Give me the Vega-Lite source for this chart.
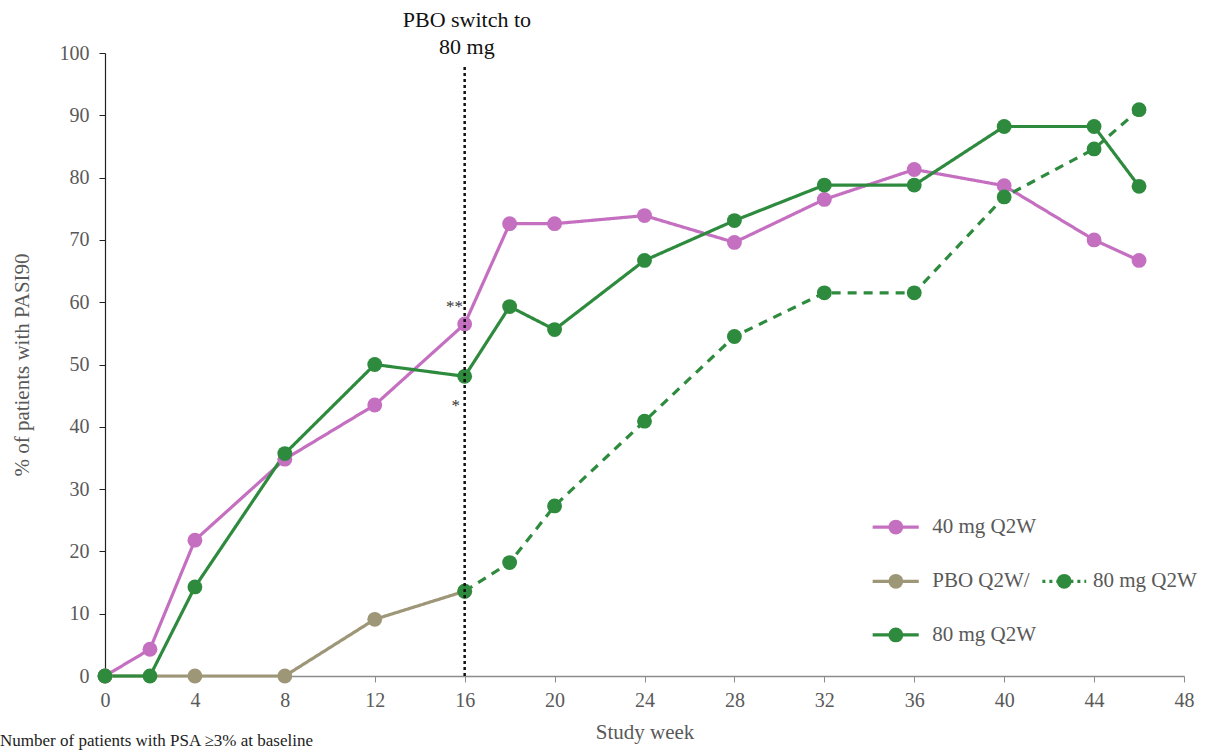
{
  "$schema": "https://vega.github.io/schema/vega-lite/v6.json",
  "autosize": {"type": "none"},
  "width": 1079,
  "height": 623,
  "padding": {"left": 105, "top": 53, "right": 27, "bottom": 75},
  "background": "white",
  "config": {
    "view": {"stroke": null},
    "font": "Liberation Serif",
    "axis": {"grid": false, "labelFont": "Liberation Serif", "titleFont": "Liberation Serif", "labelFontSize": 20, "titleFontSize": 21, "labelColor": "#595959", "titleColor": "#595959", "titleFontWeight": "normal", "tickSize": 6}
  },
  "datasets": {
    "series": [
      {"group": "40 mg Q2W", "week": 0, "pct": 0},
      {"group": "40 mg Q2W", "week": 2, "pct": 4.3},
      {"group": "40 mg Q2W", "week": 4, "pct": 21.8},
      {"group": "40 mg Q2W", "week": 8, "pct": 34.8},
      {"group": "40 mg Q2W", "week": 12, "pct": 43.5},
      {"group": "40 mg Q2W", "week": 16, "pct": 56.5},
      {"group": "40 mg Q2W", "week": 18, "pct": 72.6},
      {"group": "40 mg Q2W", "week": 20, "pct": 72.6},
      {"group": "40 mg Q2W", "week": 24, "pct": 73.9},
      {"group": "40 mg Q2W", "week": 28, "pct": 69.6},
      {"group": "40 mg Q2W", "week": 32, "pct": 76.5},
      {"group": "40 mg Q2W", "week": 36, "pct": 81.3},
      {"group": "40 mg Q2W", "week": 40, "pct": 78.7},
      {"group": "40 mg Q2W", "week": 44, "pct": 70.0},
      {"group": "40 mg Q2W", "week": 46, "pct": 66.7},
      {"group": "PBO Q2W", "week": 0, "pct": 0},
      {"group": "PBO Q2W", "week": 4, "pct": 0},
      {"group": "PBO Q2W", "week": 8, "pct": 0},
      {"group": "PBO Q2W", "week": 12, "pct": 9.1},
      {"group": "PBO Q2W", "week": 16, "pct": 13.6},
      {"group": "PBO→80 mg Q2W", "week": 16, "pct": 13.6},
      {"group": "PBO→80 mg Q2W", "week": 18, "pct": 18.2},
      {"group": "PBO→80 mg Q2W", "week": 20, "pct": 27.3},
      {"group": "PBO→80 mg Q2W", "week": 24, "pct": 40.9},
      {"group": "PBO→80 mg Q2W", "week": 28, "pct": 54.5},
      {"group": "PBO→80 mg Q2W", "week": 32, "pct": 61.5},
      {"group": "PBO→80 mg Q2W", "week": 36, "pct": 61.5},
      {"group": "PBO→80 mg Q2W", "week": 40, "pct": 76.9},
      {"group": "PBO→80 mg Q2W", "week": 44, "pct": 84.6},
      {"group": "PBO→80 mg Q2W", "week": 46, "pct": 90.9},
      {"group": "80 mg Q2W", "week": 0, "pct": 0},
      {"group": "80 mg Q2W", "week": 2, "pct": 0},
      {"group": "80 mg Q2W", "week": 4, "pct": 14.3},
      {"group": "80 mg Q2W", "week": 8, "pct": 35.7},
      {"group": "80 mg Q2W", "week": 12, "pct": 50.0},
      {"group": "80 mg Q2W", "week": 16, "pct": 48.1},
      {"group": "80 mg Q2W", "week": 18, "pct": 59.3},
      {"group": "80 mg Q2W", "week": 20, "pct": 55.6},
      {"group": "80 mg Q2W", "week": 24, "pct": 66.7},
      {"group": "80 mg Q2W", "week": 28, "pct": 73.1},
      {"group": "80 mg Q2W", "week": 32, "pct": 78.8},
      {"group": "80 mg Q2W", "week": 36, "pct": 78.8},
      {"group": "80 mg Q2W", "week": 40, "pct": 88.2},
      {"group": "80 mg Q2W", "week": 44, "pct": 88.2},
      {"group": "80 mg Q2W", "week": 46, "pct": 78.6}
    ],
    "switchLine": [{"week": 16, "pct": 0, "pct2": 98}],
    "notes": [
      {"week": 16.1, "pct": 105.3, "text": "PBO switch to"},
      {"week": 16.1, "pct": 101.0, "text": "80 mg"}
    ],
    "stars": [
      {"week": 15.55, "pct": 59.3, "text": "**"},
      {"week": 15.6, "pct": 43.3, "text": "*"}
    ],
    "legendLines": [
      {"group": "40 mg Q2W", "week": 34.15, "week2": 36.2, "pct": 23.9},
      {"group": "PBO Q2W", "week": 34.15, "week2": 36.2, "pct": 15.2},
      {"group": "80 mg Q2W", "week": 34.15, "week2": 36.2, "pct": 6.6}
    ],
    "legendDotted": [
      {"group": "PBO→80 mg Q2W", "week": 41.7, "week2": 43.65, "pct": 15.2}
    ],
    "legendPoints": [
      {"group": "40 mg Q2W", "week": 35.18, "pct": 23.9},
      {"group": "PBO Q2W", "week": 35.18, "pct": 15.2},
      {"group": "PBO→80 mg Q2W", "week": 42.67, "pct": 15.2},
      {"group": "80 mg Q2W", "week": 35.18, "pct": 6.6}
    ],
    "legendText": [
      {"week": 36.8, "pct": 23.9, "text": "40 mg Q2W"},
      {"week": 36.8, "pct": 15.2, "text": "PBO Q2W/"},
      {"week": 43.95, "pct": 15.2, "text": "80 mg Q2W"},
      {"week": 36.8, "pct": 6.6, "text": "80 mg Q2W"}
    ],
    "footnote": [
      {"week": -4.67, "pct": -9.2, "text": "Number of patients with PSA ≥3% at baseline"}
    ]
  },
  "encoding": {
    "x": {
      "field": "week", "type": "quantitative",
      "scale": {"domain": [0, 48], "nice": false, "zero": false},
      "axis": {"title": "Study week", "values": [0, 4, 8, 12, 16, 20, 24, 28, 32, 36, 40, 44, 48], "domainColor": "#8c8c8c", "tickColor": "#8c8c8c", "domainWidth": 1.5, "labelPadding": 8, "titlePadding": 11, "labelFlush": false}
    },
    "y": {
      "field": "pct", "type": "quantitative",
      "scale": {"domain": [0, 100], "nice": false},
      "axis": {"title": "% of patients with PASI90", "values": [0, 10, 20, 30, 40, 50, 60, 70, 80, 90, 100], "domainColor": "#222222", "tickColor": "#222222", "domainWidth": 1.2, "labelPadding": 10, "titlePadding": 27}
    }
  },
  "layer": [
    {
      "data": {"name": "series"},
      "mark": {"type": "line", "strokeWidth": 3.2},
      "encoding": {
        "color": {"field": "group", "type": "nominal", "scale": {"domain": ["40 mg Q2W", "PBO Q2W", "PBO→80 mg Q2W", "80 mg Q2W"], "range": ["#c46fc0", "#9d9677", "#2e8b3e", "#2e8b3e"]}, "legend": null},
        "strokeDash": {"field": "group", "type": "nominal", "scale": {"domain": ["40 mg Q2W", "PBO Q2W", "PBO→80 mg Q2W", "80 mg Q2W"], "range": [[1, 0], [1, 0], [9, 7], [1, 0]]}, "legend": null},
        "order": {"field": "week", "type": "quantitative"}
      }
    },
    {
      "data": {"name": "series"},
      "mark": {"type": "circle", "size": 220, "opacity": 1},
      "encoding": {
        "color": {"field": "group", "type": "nominal", "legend": null}
      }
    },
    {
      "data": {"name": "switchLine"},
      "mark": {"type": "rule", "color": "#111111", "strokeWidth": 2.5, "strokeDash": [3, 3]},
      "encoding": {"y2": {"field": "pct2"}}
    },
    {
      "data": {"name": "notes"},
      "mark": {"type": "text", "fontSize": 22, "color": "#111111", "align": "center", "baseline": "middle", "font": "Liberation Serif"},
      "encoding": {"text": {"field": "text"}}
    },
    {
      "data": {"name": "stars"},
      "mark": {"type": "text", "fontSize": 17, "color": "#333333", "align": "center", "baseline": "middle", "font": "Liberation Serif"},
      "encoding": {"text": {"field": "text"}}
    },
    {
      "data": {"name": "legendLines"},
      "mark": {"type": "rule", "strokeWidth": 3.2},
      "encoding": {
        "x2": {"field": "week2"},
        "color": {"field": "group", "type": "nominal", "legend": null}
      }
    },
    {
      "data": {"name": "legendDotted"},
      "mark": {"type": "rule", "strokeWidth": 3.2, "strokeDash": [3, 4]},
      "encoding": {
        "x2": {"field": "week2"},
        "color": {"field": "group", "type": "nominal", "legend": null}
      }
    },
    {
      "data": {"name": "legendPoints"},
      "mark": {"type": "circle", "size": 220, "opacity": 1},
      "encoding": {
        "color": {"field": "group", "type": "nominal", "legend": null}
      }
    },
    {
      "data": {"name": "legendText"},
      "mark": {"type": "text", "fontSize": 21, "color": "#595959", "align": "left", "baseline": "middle", "font": "Liberation Serif"},
      "encoding": {"text": {"field": "text"}}
    },
    {
      "data": {"name": "footnote"},
      "mark": {"type": "text", "fontSize": 17, "color": "#222222", "align": "left", "baseline": "top", "font": "Liberation Serif"},
      "encoding": {"text": {"field": "text"}}
    }
  ]
}
